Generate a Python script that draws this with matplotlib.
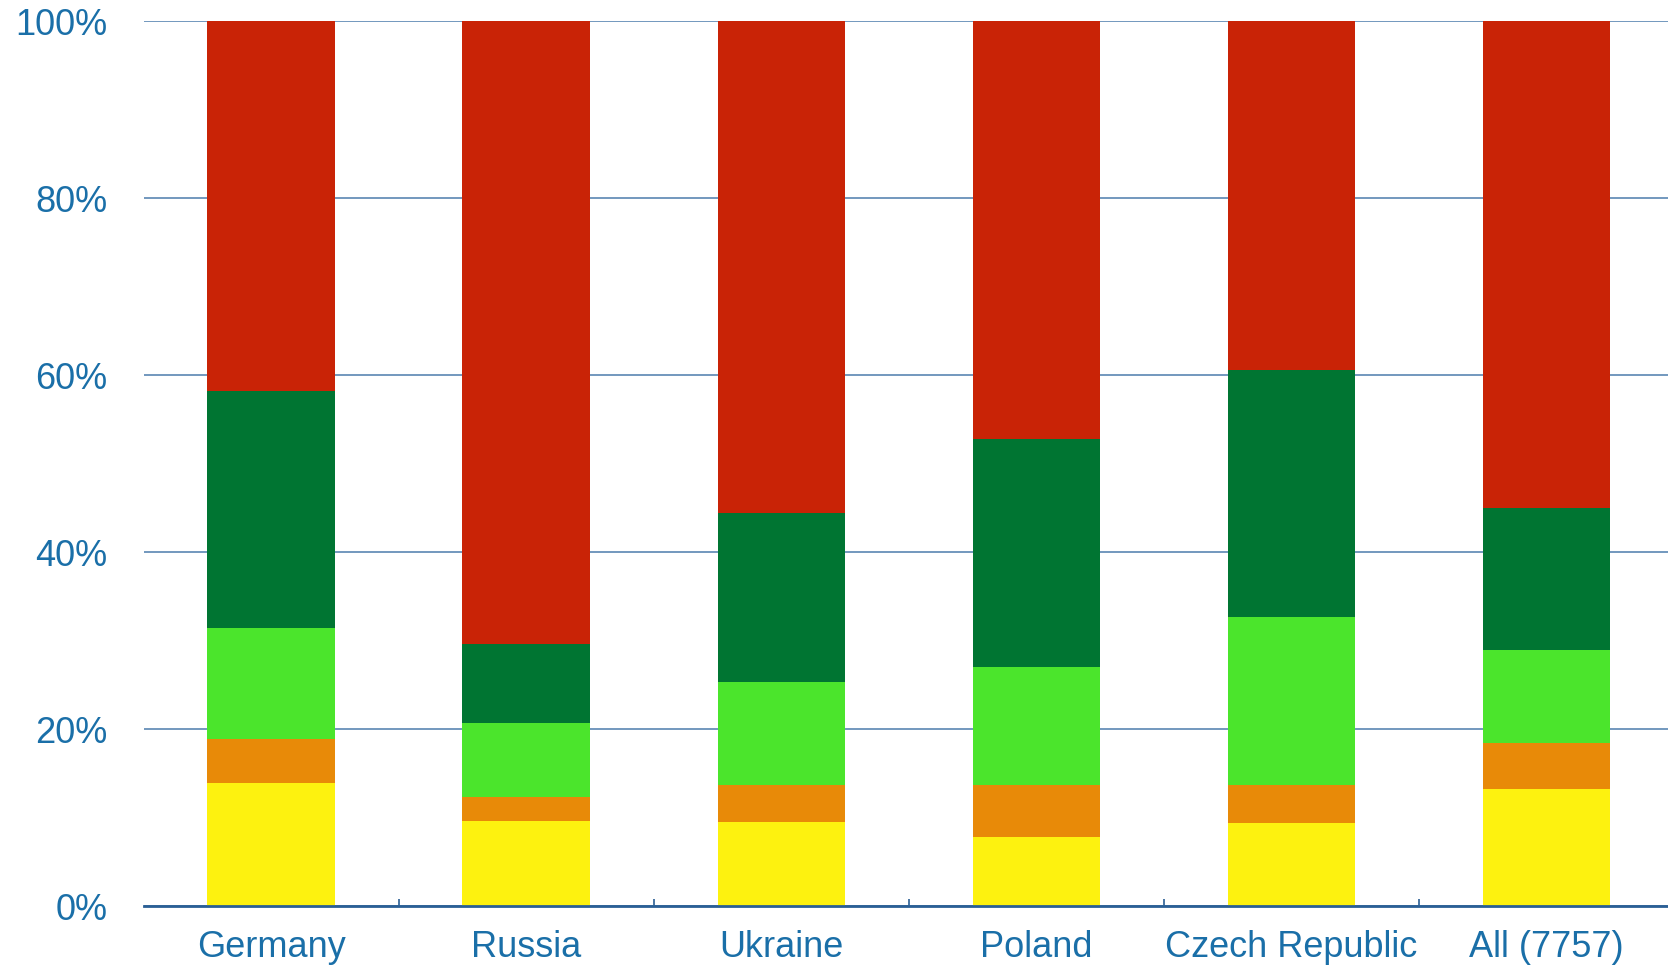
import matplotlib
matplotlib.use("Agg")
import matplotlib.pyplot as plt
import numpy as np

categories = ["Germany", "Russia", "Ukraine", "Poland", "Czech Republic", "All (7757)"]
# segment sizes (%)
yellow = [13.9, 9.7, 9.5, 7.8, 9.4, 13.3]
orange = [5.0, 2.7, 4.2, 5.9, 4.3, 5.2]
light_green = [12.6, 8.3, 11.7, 13.3, 19.0, 10.5]
dark_green = [26.7, 8.9, 19.1, 25.8, 27.9, 16.0]
red = [41.8, 70.4, 55.5, 47.2, 39.4, 55.0]

series = [yellow, orange, light_green, dark_green, red]
colors = ["#fdf20f", "#e88a08", "#4be52c", "#007532", "#c92306"]

plt.rcParams['font.family'] = ['Liberation Sans', 'DejaVu Sans']
fig = plt.figure(figsize=(16.68, 9.67), dpi=100)
ax = fig.add_axes([143.6/1668, 1-906.4/967, (1674-143.6)/1668, (906.4-21.3)/967])

x = np.arange(len(categories))
bottom = np.zeros(len(categories))
for vals, c in zip(series, colors):
    v = np.array(vals)
    ax.bar(x, v, bottom=bottom, width=0.5, color=c, zorder=3, linewidth=0)
    bottom += v

ax.set_xlim(-0.5, len(categories) - 0.5)
ax.set_ylim(0, 100)
ax.set_yticks([0, 20, 40, 60, 80, 100])
ax.set_yticklabels(["0%", "20%", "40%", "60%", "80%", "100%"])
ax.yaxis.grid(True, color="#5a86b3", linewidth=1.2, zorder=0)
ax.set_axisbelow(True)

ax.set_xticks(x)
ax.set_xticklabels(categories)
ax.set_xticks(np.arange(0.5, len(categories) - 0.5, 1), minor=True)
ax.tick_params(axis='x', which='major', length=0, pad=17, labelsize=26, labelcolor="#1a6fa8")
ax.tick_params(axis='x', which='minor', length=5, width=1.2, direction='in', color="#2a5f95")
ax.tick_params(axis='y', length=0, pad=26, labelsize=26, labelcolor="#1a6fa8")

for s in ["left", "right", "top"]:
    ax.spines[s].set_visible(False)
ax.spines["bottom"].set_color("#2a5f95")
ax.spines["bottom"].set_linewidth(2)
ax.spines["bottom"].set_zorder(4)

fig.savefig("out.png", dpi=100)
